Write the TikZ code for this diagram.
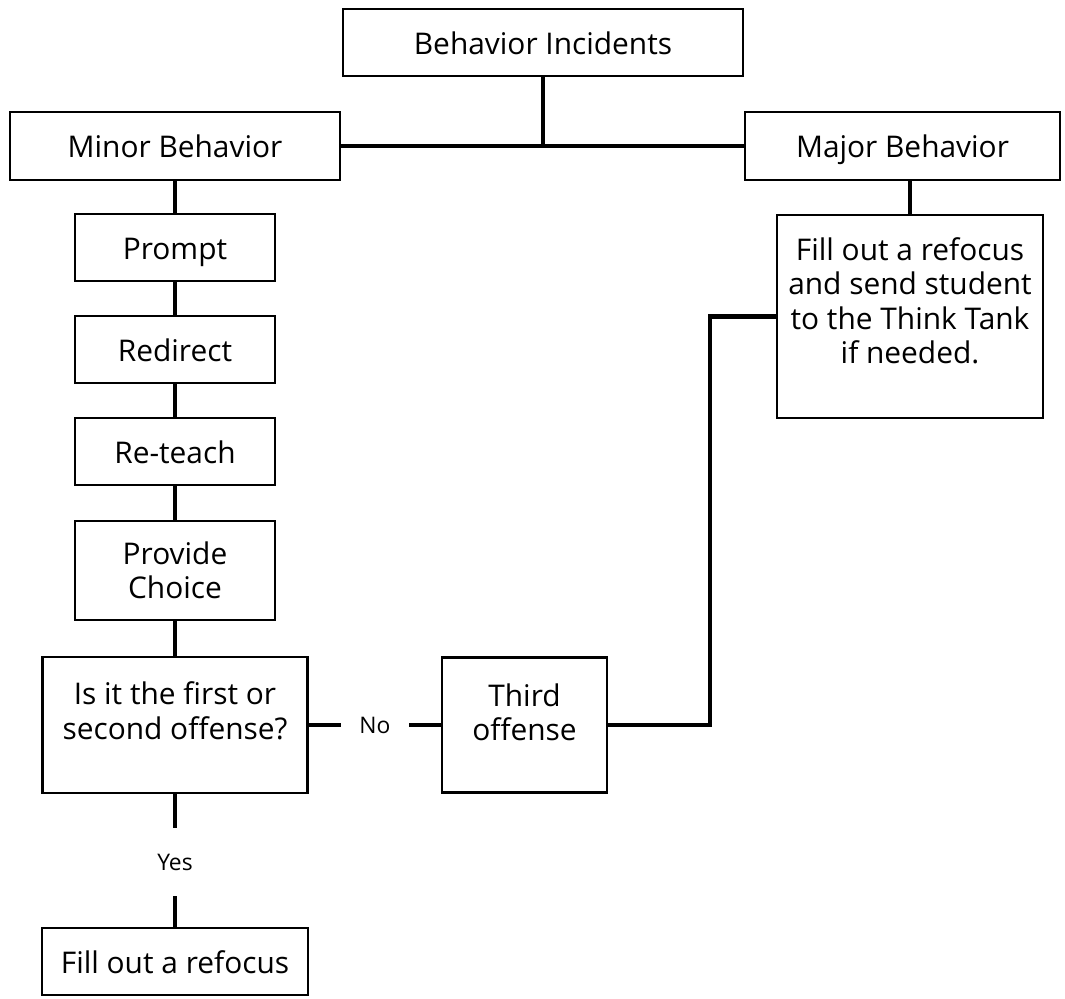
\documentclass[tikz,border=0pt]{standalone}
\usepackage{fontspec}
\setmainfont{Open Sans}

\begin{document}
\begin{tikzpicture}[
    box/.style={draw, line width=1.2pt, align=center, fill=white, inner sep=2pt,
                font=\fontsize{17}{19.5}\selectfont},
    single/.style={text height=0.62cm, text depth=0.14cm},
    link/.style={line width=2.8pt},
    answer/.style={minimum width=1.36cm, minimum height=1.36cm, inner sep=0pt,
                   font=\fontsize{13}{15}\selectfont}
]
    \useasboundingbox (0,0) rectangle (21.3,19.98);

    % Top level
    \node[box, single, minimum width=8cm, minimum height=1.34cm] (incidents) at (10.86,19.13) {Behavior Incidents};
    \node[box, single, minimum width=6.6cm, minimum height=1.36cm] (minor) at (3.5,17.06) {Minor Behavior};
    \node[box, single, minimum width=6.3cm, minimum height=1.36cm] (major) at (18.05,17.06) {Major Behavior};

    % Minor behavior steps
    \node[box, single, minimum width=4cm, minimum height=1.34cm] (prompt) at (3.5,15.03) {Prompt};
    \node[box, single, minimum width=4cm, minimum height=1.34cm] (redirect) at (3.5,12.99) {Redirect};
    \node[box, single, minimum width=4cm, minimum height=1.34cm] (reteach) at (3.5,10.95) {Re-teach};
    \node[box, minimum width=4cm, minimum height=1.98cm] (choice) at (3.5,8.57) {Provide\\Choice};

    % Offense question
    \node[box, minimum width=5.3cm, minimum height=2.72cm, text depth=0.58cm] (question) at (3.5,5.48) {Is it the first or\\second offense?};
    \node[answer] (no) at (7.5,5.48) {No};
    \node[box, minimum width=3.3cm, minimum height=2.7cm, text depth=0.5cm] (third) at (10.49,5.48) {Third\\offense};
    \node[answer] (yes) at (3.5,2.74) {Yes};
    \node[box, single, minimum width=5.32cm, minimum height=1.34cm] (fillout) at (3.5,0.75) {Fill out a refocus};

    % Major behavior
    \node[box, minimum width=5.32cm, minimum height=4.06cm, text depth=0.64cm] (refocus) at (18.2,13.65)
        {Fill out a refocus\\and send student\\to the Think Tank\\if needed.};
    \coordinate (bend) at (14.2,13.65);

    % Connectors
    \draw[link] (incidents) -- (incidents |- minor);
    \draw[link] (minor) -- (major);
    \draw[link] (refocus.north) -- (refocus.north |- major.south);
    \foreach \a/\b in {minor/prompt, prompt/redirect, redirect/reteach, reteach/choice, choice/question}
        \draw[link] (\a) -- (\b);
    \draw[link] (question) -- (no);
    \draw[link] (no) -- (third);
    \draw[link] (question) -- (yes);
    \draw[link] (yes) -- (fillout);
    \draw[link] (third) -| (bend) -- (refocus);

\end{tikzpicture}
\end{document}
